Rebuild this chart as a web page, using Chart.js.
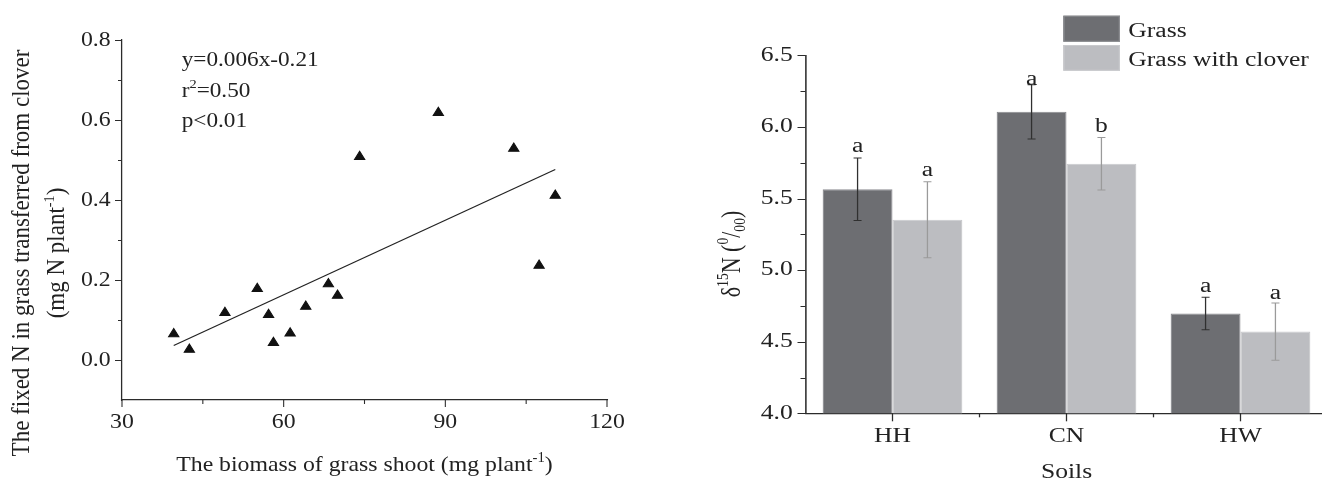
<!DOCTYPE html>
<html>
<head>
<meta charset="utf-8">
<script src="https://cdn.jsdelivr.net/npm/chart.js@4.4.1/dist/chart.umd.min.js"></script>
<style>
  html, body { margin: 0; padding: 0; background: #fff; overflow: hidden; width: 1322px; height: 483px; }
  canvas { position: absolute; top: 0; }
  #left { left: 0; }
  #right { left: 640px; }
</style>
</head>
<body>
<canvas id="left" width="640" height="483"></canvas>
<canvas id="right" width="700" height="483"></canvas>
<script>
(function () {
  'use strict';

  const SERIF = "'Liberation Serif', 'Times New Roman', serif";
  const INK = '#222';
  const AXIS = '#2b2b2b';
  const DARK = '#6d6e72';
  const DARK_EDGE = '#8c8d91';
  const LIGHT = '#bcbdc1';
  const LIGHT_EDGE = '#c9cacd';

  // left panel: fixed N transferred vs grass shoot biomass
  const biomass = [39.6, 42.5, 49.1, 55.1, 57.2, 58.1, 61.2, 64.1, 68.3, 70.0, 74.1, 88.7, 102.7, 107.4, 110.4];
  const fixedN  = [0.065, 0.026, 0.118, 0.178, 0.113, 0.043, 0.067, 0.134, 0.190, 0.161, 0.508, 0.618, 0.529, 0.236, 0.411];
  const fitX = [39.6, 110.4];
  const fitY = [0.036, 0.476];
  const leftXTicks = [30, 60, 90, 120];
  const leftXMinor = [45, 75, 105];
  const leftYTicks = [0, 0.2, 0.4, 0.6, 0.8];
  const leftYMinor = [0.1, 0.3, 0.5, 0.7];
  const fitLabel = [
    [{ t: 'y=0.006x-0.21' }],
    [{ t: 'r' }, { t: '2', sup: true }, { t: '=0.50' }],
    [{ t: 'p<0.01' }]
  ];
  const leftXTitle = [{ t: 'The biomass of grass shoot (mg plant' }, { t: '-1', sup: true }, { t: ')' }];
  const leftYTitle = [
    [{ t: 'The fixed N in grass transferred from clover' }],
    [{ t: '(mg N plant' }, { t: '-1', sup: true }, { t: ')' }]
  ];

  // right panel: d15N by soil
  const soils = ['HH', 'CN', 'HW'];
  const grassMean  = [5.565, 6.105, 4.697];
  const grassErr   = [0.218, 0.19, 0.114];
  const cloverMean = [5.352, 5.743, 4.571];
  const cloverErr  = [0.265, 0.183, 0.20];
  const grassLetters  = ['a', 'a', 'a'];
  const cloverLetters = ['a', 'b', 'a'];
  const grassLetterY  = [5.822, 6.296, 4.85];
  const cloverLetterY = [5.655, 5.962, 4.80];
  const rightYTicks = [4.0, 4.5, 5.0, 5.5, 6.0, 6.5];
  const rightYMinor = [4.25, 4.75, 5.25, 5.75, 6.25];
  const rightYTitle = [
    { t: '\u03b4' }, { t: '15', sup: true }, { t: 'N (' },
    { t: '0', sup: true }, { t: '/' }, { t: '00', sub: true }, { t: ')' }
  ];

  Chart.defaults.font.family = SERIF;
  Chart.defaults.color = INK;

  function fontFor(p, size) {
    return ((p.sup || p.sub) ? size * 0.62 : size) + 'px ' + SERIF;
  }

  function drawRich(ctx, parts, x, y, size, align) {
    let w = 0;
    parts.forEach(function (p) { ctx.font = fontFor(p, size); w += ctx.measureText(p.t).width; });
    let cx = align === 'center' ? x - w / 2 : x;
    ctx.textAlign = 'left';
    ctx.textBaseline = 'alphabetic';
    ctx.fillStyle = INK;
    parts.forEach(function (p) {
      ctx.font = fontFor(p, size);
      const dy = p.sup ? -size * 0.4 : (p.sub ? size * 0.18 : 0);
      ctx.fillText(p.t, cx, y + dy);
      cx += ctx.measureText(p.t).width;
    });
  }

  function drawRotated(ctx, parts, cx, cy, size) {
    ctx.save();
    ctx.translate(cx, cy);
    ctx.rotate(-Math.PI / 2);
    drawRich(ctx, parts, 0, size * 0.3375, size, 'center');
    ctx.restore();
  }

  function ticksY(ctx, scale, vals, len) {
    const x0 = scale.right;
    vals.forEach(function (v) {
      const py = Math.round(scale.getPixelForValue(v)) + 0.5;
      ctx.beginPath(); ctx.moveTo(x0 - len, py); ctx.lineTo(x0, py); ctx.stroke();
    });
  }

  function ticksX(ctx, scale, vals, len) {
    const y0 = scale.top;
    vals.forEach(function (v) {
      const px = scale.getPixelForValue(v);
      ctx.beginPath(); ctx.moveTo(px, y0); ctx.lineTo(px, y0 + len); ctx.stroke();
    });
  }

  // stretches each panel sideways like the printed figure, then draws the extras
  function panelPlugin(sx, extras) {
    return {
      id: 'panel',
      beforeDraw: function (chart) {
        chart.ctx.save();
        chart.ctx.setTransform(sx, 0, 0, 1, 0, 0);
      },
      afterDraw: function (chart) {
        const ctx = chart.ctx;
        ctx.save();
        ctx.strokeStyle = AXIS;
        ctx.lineWidth = 1;
        extras(chart, ctx, sx);
        ctx.restore();
        ctx.restore();
      }
    };
  }

  function leftExtras(chart, ctx, sx) {
    const xs = chart.scales.x, ys = chart.scales.y;
    ticksY(ctx, ys, leftYTicks, 7 / sx);
    ticksY(ctx, ys, leftYMinor, 4 / sx);
    ticksX(ctx, xs, leftXTicks, 7);
    ticksX(ctx, xs, leftXMinor, 4);

    const ax = 181.7 / sx;
    [66, 97, 127].forEach(function (by, i) { drawRich(ctx, fitLabel[i], ax, by, 21.5, 'left'); });

    const area = chart.chartArea;
    drawRich(ctx, leftXTitle, (area.left + area.right) / 2, 471, 22, 'center');
    drawRotated(ctx, leftYTitle[0], 21 / sx, 253, 23);
    drawRotated(ctx, leftYTitle[1], 56 / sx, 253, 23);
  }

  function rightExtras(chart, ctx, sx) {
    const xs = chart.scales.x, ys = chart.scales.y;
    ticksY(ctx, ys, rightYTicks, 8 / sx);
    ticksY(ctx, ys, rightYMinor, 5 / sx);
    ticksX(ctx, xs, [0, 1, 2], 8);
    ticksX(ctx, xs, [0.5, 1.5], 4);

    const errs = [grassErr, cloverErr];
    const errColors = ['#303030', '#9a9a9a'];
    const letters = [grassLetters, cloverLetters];
    const letterY = [grassLetterY, cloverLetterY];
    const cap = 4 / sx;
    chart.data.datasets.forEach(function (ds, di) {
      const meta = chart.getDatasetMeta(di);
      meta.data.forEach(function (bar, j) {
        const top = ys.getPixelForValue(ds.data[j] + errs[di][j]);
        const bot = ys.getPixelForValue(ds.data[j] - errs[di][j]);
        ctx.strokeStyle = errColors[di];
        ctx.beginPath();
        ctx.moveTo(bar.x, top); ctx.lineTo(bar.x, bot);
        ctx.moveTo(bar.x - cap, top); ctx.lineTo(bar.x + cap, top);
        ctx.moveTo(bar.x - cap, bot); ctx.lineTo(bar.x + cap, bot);
        ctx.stroke();
        drawRich(ctx, [{ t: letters[di][j] }], bar.x, ys.getPixelForValue(letterY[di][j]), 20, 'center');
      });
    });

    // legend, top right
    const bx = (1063.3 - 640) / sx, bw = (1120 - 1063.3) / sx;
    const rows = [[15.7, 41.7, 37.3], [45, 70.7, 65.7]];
    chart.data.datasets.forEach(function (ds, di) {
      const r = rows[di];
      ctx.fillStyle = ds.backgroundColor;
      ctx.fillRect(bx, r[0], bw, r[1] - r[0]);
      ctx.strokeStyle = ds.borderColor;
      ctx.strokeRect(bx + 0.5, r[0] + 0.5, bw - 1, r[1] - r[0] - 1);
      drawRich(ctx, [{ t: ds.label }], (1128.3 - 640) / sx, r[2], 20, 'left');
    });

    drawRotated(ctx, rightYTitle, (730 - 640) / sx, 254, 22);
  }

  const axisBorder = { display: true, color: AXIS, width: 1.2 };

  new Chart(document.getElementById('left'), {
    type: 'scatter',
    data: {
      datasets: [{
        type: 'scatter',
        data: biomass.map(function (x, i) { return { x: x, y: fixedN[i] }; }),
        pointStyle: 'triangle',
        radius: 5.5,
        backgroundColor: '#111',
        borderColor: '#111',
        borderWidth: 1
      }, {
        type: 'line',
        data: fitX.map(function (x, i) { return { x: x, y: fitY[i] }; }),
        borderColor: '#222',
        borderWidth: 1.1,
        pointRadius: 0,
        fill: false
      }]
    },
    options: {
      responsive: false,
      animation: false,
      devicePixelRatio: 1,
      layout: { padding: { top: 40, right: 640 - 607 / 1.08, bottom: 0, left: 0 } },
      plugins: { legend: { display: false }, tooltip: { enabled: false } },
      scales: {
        x: {
          type: 'linear', min: 30, max: 120,
          afterFit: function (s) { s.height = 83; },
          grid: { display: false, drawTicks: false },
          border: axisBorder,
          ticks: { stepSize: 30, padding: 11.6, color: INK, font: { family: SERIF, size: 22, lineHeight: 1 } }
        },
        y: {
          min: -0.1, max: 0.8,
          afterFit: function (s) { s.width = 122 / 1.08; },
          grid: { display: false, drawTicks: false },
          border: axisBorder,
          ticks: {
            stepSize: 0.1, autoSkip: false, padding: 10.5, color: INK,
            font: { family: SERIF, size: 22, lineHeight: 1 },
            callback: function (v) {
              const r = Math.round(v * 10);
              return (r >= 0 && r % 2 === 0) ? (r / 10).toFixed(1) : '';
            }
          }
        }
      }
    },
    plugins: [panelPlugin(1.08, leftExtras)]
  });

  new Chart(document.getElementById('right'), {
    type: 'bar',
    data: {
      labels: soils,
      datasets: [
        { label: 'Grass', data: grassMean, backgroundColor: DARK, borderColor: DARK_EDGE, borderWidth: 1 },
        { label: 'Grass with clover', data: cloverMean, backgroundColor: LIGHT, borderColor: LIGHT_EDGE, borderWidth: 1 }
      ]
    },
    options: {
      responsive: false,
      animation: false,
      devicePixelRatio: 1,
      layout: { padding: { top: 55.3, right: 700 - (1327.5 - 640) / 1.28, bottom: 0, left: 0 } },
      datasets: { bar: { categoryPercentage: 0.803, barPercentage: 1 } },
      plugins: { legend: { display: false }, tooltip: { enabled: false } },
      scales: {
        x: {
          afterFit: function (s) { s.height = 483 - 413.3; },
          grid: { display: false, drawTicks: false },
          border: axisBorder,
          ticks: { padding: 13, color: INK, font: { family: SERIF, size: 20, lineHeight: 1 } },
          title: {
            display: true, text: 'Soils', color: INK,
            font: { family: SERIF, size: 20, lineHeight: 1 },
            padding: { top: 0, bottom: 0 }
          }
        },
        y: {
          min: 4, max: 6.5,
          afterFit: function (s) { s.width = (805.5 - 640) / 1.28; },
          grid: { display: false, drawTicks: false },
          border: axisBorder,
          ticks: {
            stepSize: 0.5, padding: 10, color: INK,
            font: { family: SERIF, size: 20, lineHeight: 1 },
            callback: function (v) { return v.toFixed(1); }
          }
        }
      }
    },
    plugins: [panelPlugin(1.28, rightExtras)]
  });
})();
</script>
</body>
</html>
